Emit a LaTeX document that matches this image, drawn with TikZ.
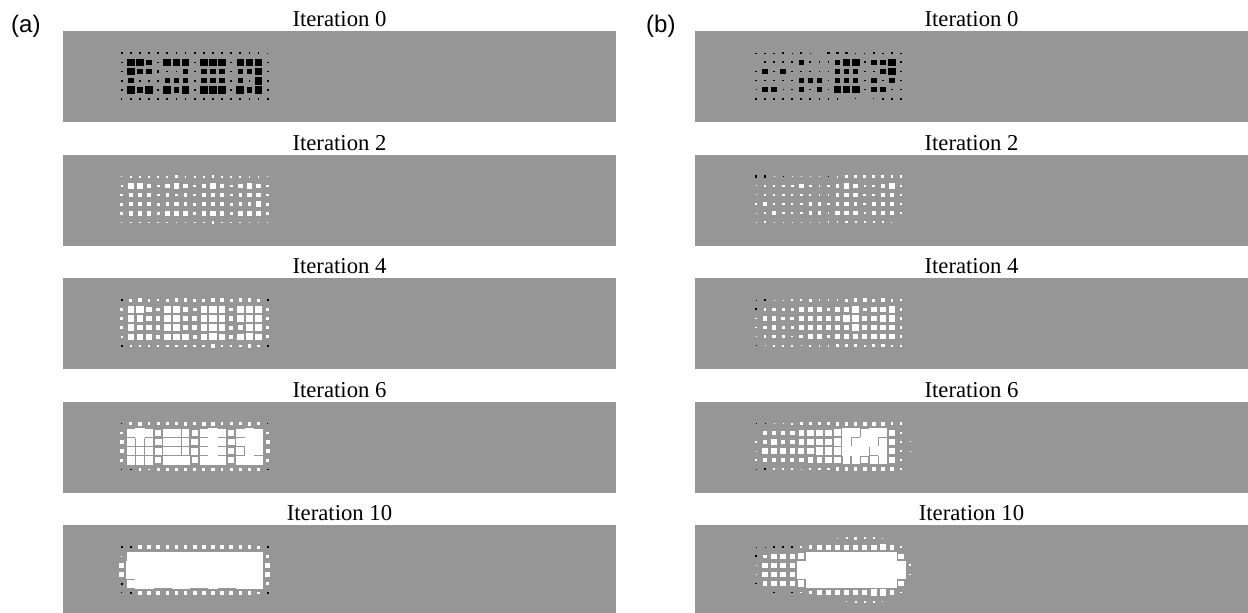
\documentclass[tikz,border=0pt]{standalone}
\usepackage{fontspec}
\setmainfont{Liberation Serif}
\newfontfamily\labelfont{Liberation Sans}
\definecolor{panelgray}{RGB}{150,150,150}
\tikzset{
  panel/.style={fill=panelgray},
  ititle/.style={anchor=base, inner sep=0pt, font=\fontsize{22.7}{26}\selectfont},
  plabel/.style={anchor=base west, inner sep=0pt, font=\labelfont\fontsize{24}{28}\selectfont},
}
% Hinton grid: #1 x of first column, #2 y of first row, #3 pitch,
% #4 rows of signed sizes (tenths of the pitch; negative = black, positive = white)
\newcommand{\hintongrid}[4]{%
  \foreach \hrow [count=\hr from 0] in {#4} {
    \foreach \hv [count=\hc from 0] in \hrow {
      \pgfmathsetmacro{\hs}{abs(\hv)*#3/20}
      \ifdim\hv pt<0pt \def\hfc{black}\else\def\hfc{white}\fi
      \ifdim\hs pt>0pt
        \fill[\hfc] ({#1+\hc*#3-\hs},{#2+\hr*#3-\hs}) rectangle ++({2*\hs},{2*\hs});
      \fi
    }
  }
}
\begin{document}
\begin{tikzpicture}[x=1pt,y=-1pt]
\useasboundingbox (0,0) rectangle (1248,613);

% panel frames
\foreach \t [count=\k] in {31,154.5,278,401.5,525} {
  \fill[panel] (63,\t) rectangle (616,{min(\t+91,613)});
  \fill[panel] (695,\t) rectangle (1248,{min(\t+91,613)});
}

\node[plabel] (la) at (11,32) {(a)};
\node[plabel] (lb) at (646,32) {(b)};

\node[ititle] (ta0) at (339.5,26.5) {Iteration 0};
\node[ititle] (ta2) at (339.5,150) {Iteration 2};
\node[ititle] (ta4) at (339.5,273.5) {Iteration 4};
\node[ititle] (ta6) at (339.5,397) {Iteration 6};
\node[ititle] (ta10) at (339.5,520.5) {Iteration 10};
\node[ititle] (tb0) at (971.5,26.5) {Iteration 0};
\node[ititle] (tb2) at (971.5,150) {Iteration 2};
\node[ititle] (tb4) at (971.5,273.5) {Iteration 4};
\node[ititle] (tb6) at (971.5,397) {Iteration 6};
\node[ititle] (tb10) at (971.5,520.5) {Iteration 10};

% ---- column (a) ----
\hintongrid{121.7}{53.3}{9.125}{
 {-2,-2,-2,-2,-2,-2,-2,-2,-2,-2,-2,-2,-2,-2,-2,-2,-1.5},
 {-2,-8.5,-8.5,-6,-2,-8.5,-8.5,-8.5,-2,-8.5,-8.5,-8.5,-2,-7,-8.5,-8.5,-2},
 {-2,-8.5,-6,-6,-2.5,-2,-2,-6,-2,-6,-6,-6,-2,-6,-6,-8.5,-2},
 {-2,-6,-2,-2,-2,-6,-6,-6,-2,-6,-6,-6,-2,-6,-2,-8.5,-2},
 {-2,-8.5,-6,-8.5,-2,-8.5,-6,-8.5,-2,-8.5,-8.5,-8.5,-2,-8.5,-6,-8.5,-2},
 {-1.5,-2,-2,-2,-2,-2,-2,-2,-2,-2,-2,-2,-2,-2,-2,-2,-2}}

\hintongrid{121.7}{176.8}{9.125}{
 {1.5,2,2,2,2,2,3,2,2,2,3,2,2,2,2,2,1},
 {2,6,6,5,3,5,6,5,3,5,6,5,3,5,6,5,3},
 {3,5,5,4,3,4,3,4,3,5,5,4,3,4,5,5,3},
 {3,5,5,4,3,4,5,4,3,5,5,5,3,4,4,6,3},
 {3,5,5,5,3,5,5,5,3,5,6,5,3,5,5,5,3},
 {1.5,2,2,2,2,2,2,2,2,2,3,2,2,2,2,2,1}}

\hintongrid{121.7}{300.3}{9.125}{
 {-2,3,4,3,2,3,4,4,3,3,4,4,3,4,4,3,-2},
 {3,7,8,6,4,7,7,6,4,7,8,7,4,7,8,7,3},
 {3,7,7,6,5,7,7,6,5,7,8,7,5,7,8,8,3},
 {3,7,6,6,5,7,7,6,5,7,8,7,4,6,8,7,3},
 {2,7,7,7,4,7,7,7,4,7,8,7,4,7,8,7,3},
 {-2,2,3,2,2,3,3,3,3,3,4,3,2,3,4,3,-2}}

\hintongrid{121.7}{423.8}{9.125}{
 {-1,3,4,3,3,3,3,4,3,4,4,3,3,3,4,3,-1},
 {3,9.4,10.4,8.5,6.5,9.4,9.4,8.5,6.5,9.4,10.4,9.4,6.5,9.4,10.4,9.4,3},
 {4,9.4,9.4,8.5,7.5,9.4,9.4,8.5,7.5,9.4,10.4,9.4,7.5,9.4,10.4,10.4,4},
 {4,9.4,8.5,8.5,7.5,9.4,9.4,8.5,7.5,9.4,10.4,9.4,6.5,8.5,10.4,9.4,4},
 {3,9.4,9.4,9.4,6.5,9.4,9.4,9.4,6.5,9.4,10.4,9.4,6.5,9.4,10.4,9.4,3},
 {-1,-2,3,2,3,3,3,3,3,3,4,3,3,3,4,3,-2}}

\hintongrid{121.7}{547.3}{9.125}{
 {-2,-2,4,4,4,4,4,4,4,4,4,4,4,4,4,3,-2},
 {1,9,10.3,10.3,9.7,9.7,10.3,10.3,9.7,9.7,10.3,9.7,9.7,10.3,10.3,10.3,3},
 {5,10.5,10.5,10.5,10.5,10.5,10.5,10.5,10.5,10.5,10.5,10.5,10.5,10.5,10.5,10.5,5},
 {5,10.5,10.5,10.5,10.5,10.5,10.5,10.5,10.5,10.5,10.5,10.5,10.5,10.5,10.5,10.5,5},
 {-2,9,10.3,10.3,9.7,9.7,10.3,10.3,9.7,9.7,10.3,9.7,9.7,10.3,10.3,10.3,3},
 {-1,-2,4,4,4,4,4,4,4,4,5,4,4,4,4,3,-2}}

% ---- column (b) ----
\hintongrid{756}{53.3}{9.06}{
 {-1.5,-1.5,-1.5,-2.5,-1.5,-2.5,-1.5,0,-2.5,-2.5,-2.5,-1.5,-1.5,-2.5,-1.5,-2.5,-1.5},
 {0,-2,-2,-2,-2,-6,-2,-2,-2,-6,-8.5,-8.5,-2,-6,-6,-8.5,-2},
 {-2,-6,-2,-6,-2,-2,-2,-1,-2,-6,-6,-6,-2,-2,-6,-8.5,-2},
 {-2,-2,-2,-2,-2,-6,-6,-6,-2,-6,-6,-6,-2,-6,-2,-6,-2},
 {-1,-6,-6,-1,-2,-6,-2,-6,-2,-8.5,-8.5,-8.5,-2,-6,-6,-2,-2},
 {-2,-2,-2,-2,-2,-2,-2,-2,-2,-2,0,-1,0,-1,-2,-2,-2}}

\hintongrid{756}{176.8}{9.06}{
 {-3,-3,1,-1,1,1,1,1,-1,2,3,3,3,3,3,3,3},
 {1,3,2,3,3,5,3,2,3,4,6,5,2,3,4,6,3},
 {1,3,2,3,2,3,2,2,2,4,5,5,3,3,5,5,3},
 {3,5,3,3,2,3,4,4,3,4,5,4,3,4,5,4,3},
 {1,3,5,3,2,3,4,4,2,5,5,5,2,5,4,5,2},
 {1,2,1,1,1,1,1,1,2,2,3,2,2,2,2,1,0}}

\hintongrid{756}{300.3}{9.06}{
 {-1,-2,1,1,2,2,3,2,2,2,3,4,4,3,4,3,2},
 {-2,3,4,3,3,6,6,5,3,5,6,7,4,6,6,7,3},
 {2,5,5,4,4,6,6,6,5,6,7,7,5,6,7,7,3},
 {2,4,5,3,3,5,6,6,5,6,6,7,5,6,6,6,3},
 {1,3,4,3,2,4,5,6,4,6,6,6,5,6,6,6,3},
 {-1,1,2,2,2,1,2,2,2,3,4,3,2,3,4,2,2}}

\hintongrid{756}{423.8}{9.06}{
 {-1,-1,1,1,2,3,3,3,3,4,4,4,4,4,4,3,3,0},
 {0,5,5,5,5,6,7,7,7,8,10.2,10.2,8.8,10.2,10.2,7,3,0},
 {2,4,6,5,5,6,7,7,7,8,10.2,8.5,10.2,10.2,9,7,3,1},
 {1,6,6,6,6,7,7,8,8,8,10,10,10,8.5,10,7,3,1},
 {2,4,5,4,4,5,6,6,7,7,8.5,8.5,7.5,8.5,8.5,6,2,0},
 {-1,-2,2,2,2,1,2,3,3,4,4,4,4,4,4,4,2,0}}

\hintongrid{756}{538.2}{9.06}{
 {0,0,0,0,0,0,0,0,0,1,2,3,2,2,1,0,0,0},
 {-1,-1,-2,-2,-2,2,4,5,5,6,6,6,6,6,7,5,2,0},
 {-2,4,6,6,6,7,10.5,10.5,10.5,10.5,10.5,10.5,10.5,9.8,9.8,10.5,6,0},
 {1,6,6,6,6,10.5,10.5,10.5,10.5,10.5,10.5,10.5,10.5,9.8,9.8,10.5,10.3,2},
 {1,6,6,6,6,10.5,10.5,10.5,10.5,10.5,10.5,10.5,10.5,9.8,9.8,10.5,10.3,2},
 {-2,5,6,6,6,7,10.5,10.5,10.5,10.5,10.5,10.5,10.5,9.8,9.8,10.5,6,0},
 {0,0,-2,0,-2,2,4,5,5,6,6,6,6,7,7,5,2,0},
 {0,0,0,0,0,0,0,0,0,0,1,2,2,2,1,0,0,0}}

\end{tikzpicture}
\end{document}
